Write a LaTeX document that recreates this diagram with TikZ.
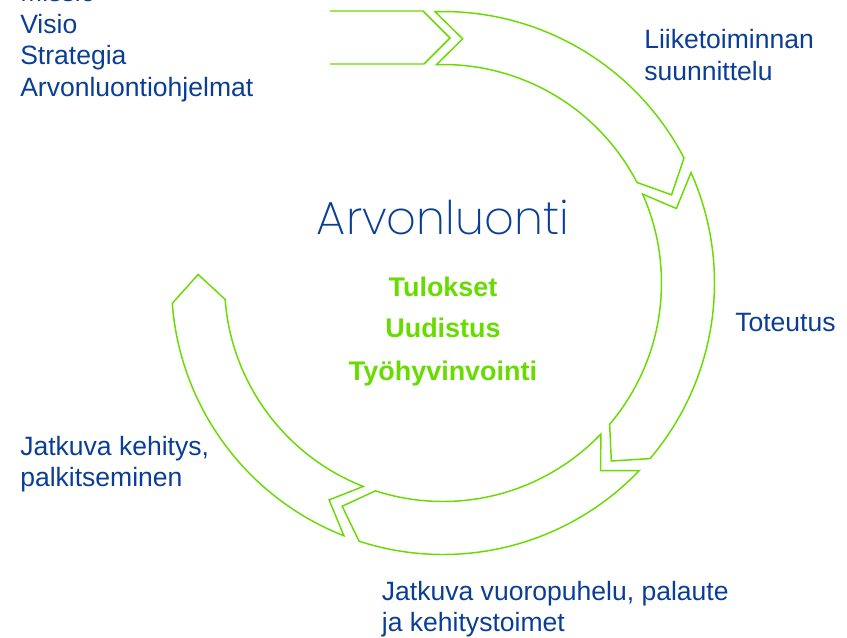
\documentclass[tikz,border=0pt]{standalone}
\usepackage{fontspec}
\setmainfont{Liberation Sans}
\newfontfamily\thinfont{Poppins ExtraLight}
\usepackage{xcolor}
\usepackage{tikz}
\usetikzlibrary{positioning}
\definecolor{arvoblue}{RGB}{10,62,150}
\definecolor{arvogreen}{RGB}{104,220,0}
\tikzset{
  band/.style={draw=arvogreen, line width=1.1pt, line join=miter},
  caption/.style={anchor=base west, inner sep=0pt, align=left, text=arvoblue, font=\fontsize{19.9}{23.6}\selectfont},
  result/.style={anchor=base, inner sep=0pt, text=arvogreen, font=\fontsize{20.2}{24}\selectfont\bfseries},
  headline/.style={anchor=base, inner sep=0pt, text=arvoblue, font=\fontsize{34.8}{38}\selectfont\thinfont}}

\begin{document}
\begin{tikzpicture}[x=0.75pt, y=0.75pt]
  \useasboundingbox (-443,283) rectangle (404,-354);
  \draw[band] (-113,272) -- (-20,272) -- (7,245) -- (-19,219) -- (-113,219);
  \foreach \s in {91.7, 24, -43.7, -111.4} {
    \pgfmathsetmacro\e{\s-64.3}
    \draw[band] (\s:271.5) arc[start angle=\s, end angle=\e, radius=271.5]
      -- ({\e-6.3}:245) -- (\e:218.5) arc[start angle=\e, end angle=\s, radius=218.5]
      -- ({\s-6.3}:245) -- cycle;
  }
  \node[headline] (title) at (0,48.7) {Arvonluonti};
  \node[result] (tulokset) at (0,-13.7) {Tulokset};
  \node[result] (uudistus) at (0,-54.7) {Uudistus};
  \node[result] (hyvinvointi) at (0,-97.2) {Työhyvinvointi};
  \node[caption] (strategy) at (-423,187) {Missio\\Visio\\Strategia\\Arvonluontiohjelmat};
  \node[caption] (planning) at (201,203) {Liiketoiminnan\\suunnittelu};
  \node[caption] (execution) at (292,-48.7) {Toteutus};
  \node[caption] (dialogue) at (-61.3,-348.7) {Jatkuva vuoropuhelu, palaute\\ja kehitystoimet};
  \node[caption] (reward) at (-423,-203.7) {Jatkuva kehitys,\\palkitseminen};
\end{tikzpicture}
\end{document}
